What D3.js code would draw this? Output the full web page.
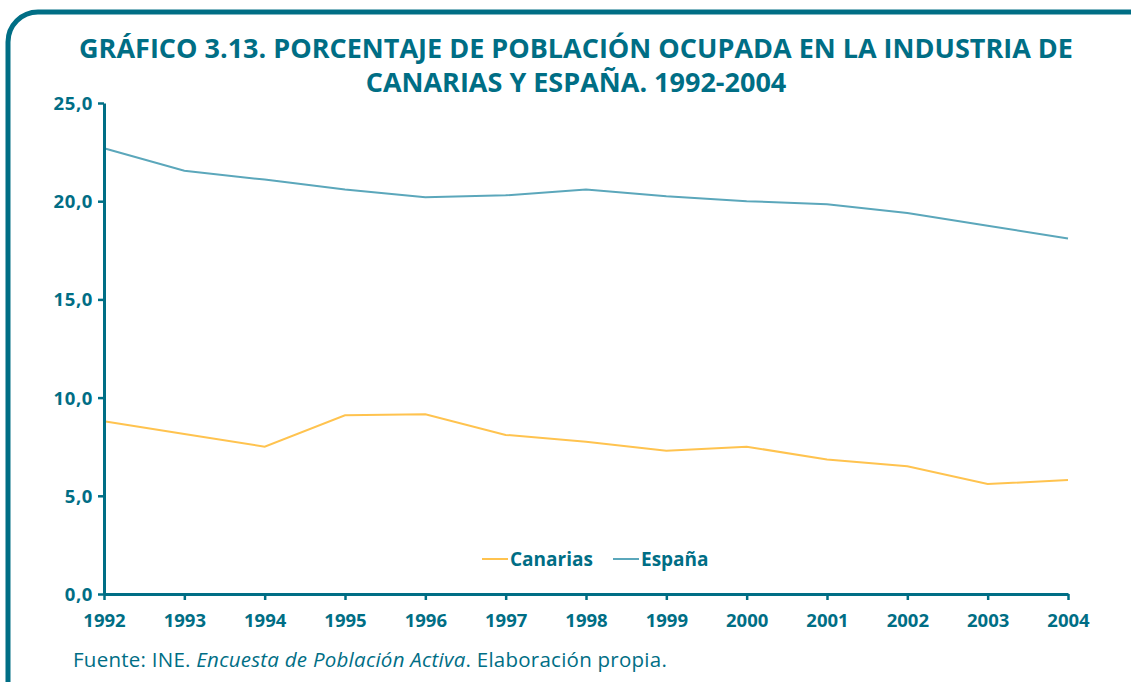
<!DOCTYPE html>
<html>
<head>
<meta charset="utf-8">
<script src="https://cdn.jsdelivr.net/npm/d3@7"></script>
<style>
  html, body { margin: 0; padding: 0; background: #fff; }
  svg { display: block; }
</style>
</head>
<body>
<svg id="chart" width="1131" height="682"></svg>
<script>
const years = [1992, 1993, 1994, 1995, 1996, 1997, 1998, 1999, 2000, 2001, 2002, 2003, 2004];
const canarias = [8.8, 8.15, 7.5, 9.1, 9.15, 8.1, 7.75, 7.3, 7.5, 6.85, 6.5, 5.6, 5.8];
const espana = [22.7, 21.55, 21.1, 20.6, 20.2, 20.3, 20.6, 20.25, 20.0, 19.85, 19.4, 18.75, 18.1];
const yTicks = [0, 5, 10, 15, 20, 25];
const seriesNames = ["Canarias", "España"];
const titleLines = ["GRÁFICO 3.13. PORCENTAJE DE POBLACIÓN OCUPADA EN LA INDUSTRIA DE", "CANARIAS Y ESPAÑA. 1992-2004"];

const teal = "#006e85";
const colors = { "Canarias": "#ffc34f", "España": "#5ba7bb" };
const font = "'Open Sans', 'Noto Sans', sans-serif";

const svg = d3.select("#chart");

// frame
svg.append("rect")
  .attr("x", 8).attr("y", 12)
  .attr("width", 1160).attr("height", 720)
  .attr("rx", 30).attr("ry", 30)
  .attr("fill", "none").attr("stroke", teal).attr("stroke-width", 5);

// title
svg.append("g").selectAll("text").data(titleLines).join("text")
  .attr("x", 576).attr("y", (d, i) => 58 + i * 34)
  .attr("text-anchor", "middle")
  .attr("font-family", font).attr("font-weight", 700).attr("font-size", 27)
  .attr("fill", teal).text(d => d);

const x = d3.scalePoint().domain(years).range([104, 1068]);
const y = d3.scaleLinear().domain([0, 25]).range([594, 103]);

// lines
const line = d3.line().x((d, i) => x(years[i])).y(d => y(d));
const series = [{ name: "Canarias", values: canarias }, { name: "España", values: espana }];
svg.append("g").selectAll("path").data(series).join("path")
  .attr("d", d => line(d.values))
  .attr("fill", "none")
  .attr("stroke", d => colors[d.name])
  .attr("stroke-width", 2);

// y axis
const yAxis = svg.append("g").attr("transform", "translate(104,0)")
  .call(d3.axisLeft(y).tickValues(yTicks).tickSize(6).tickSizeOuter(0)
    .tickFormat(d => d3.format(".1f")(d).replace(".", ",")));
// x axis
const xAxis = svg.append("g").attr("transform", "translate(0,594)")
  .call(d3.axisBottom(x).tickSize(6).tickSizeOuter(0));

[yAxis, xAxis].forEach(g => {
  g.select(".domain").attr("stroke", teal).attr("stroke-width", 3);
  g.selectAll(".tick line").attr("stroke", teal).attr("stroke-width", 2.5);
  g.selectAll(".tick text")
    .attr("fill", teal).attr("font-family", font)
    .attr("font-weight", 700).attr("font-size", 18.5);
});
yAxis.selectAll(".tick text").attr("x", -11).attr("dy", "0.35em").attr("letter-spacing", 0.6);
xAxis.selectAll(".tick text").attr("y", 20);

// legend
const legendX = [482, 613];
const leg = svg.append("g").selectAll("g").data(seriesNames).join("g")
  .attr("transform", (d, i) => `translate(${legendX[i]},559)`);
leg.append("line").attr("x1", 0).attr("x2", 26).attr("y1", 0).attr("y2", 0)
  .attr("stroke", d => colors[d]).attr("stroke-width", 2);
leg.append("text").attr("x", 28).attr("dy", "0.35em")
  .attr("font-family", font).attr("font-weight", 700).attr("font-size", 19)
  .attr("fill", teal).text(d => d);

// footer
const foot = svg.append("text").attr("x", 73).attr("y", 667)
  .attr("font-family", font).attr("font-size", 20.5).attr("letter-spacing", 0.25)
  .attr("fill", teal);
foot.append("tspan").text("Fuente: INE. ");
foot.append("tspan").attr("font-style", "italic").text("Encuesta de Población Activa");
foot.append("tspan").text(". Elaboración propia.");
</script>
</body>
</html>
